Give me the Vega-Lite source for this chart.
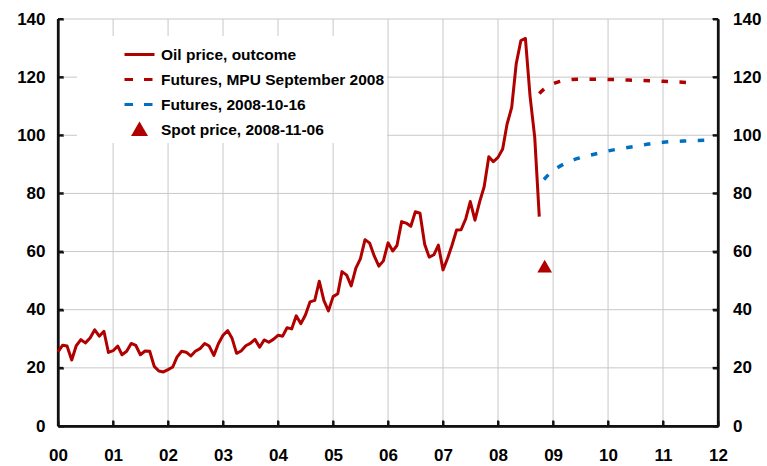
{
  "$schema": "https://vega.github.io/schema/vega-lite/v6.json",
  "width": 660,
  "height": 407,
  "autosize": {"type": "none"},
  "padding": {"left": 58, "top": 19, "right": 49, "bottom": 40},
  "background": "white",
  "config": {
    "view": {"stroke": "transparent"},
    "font": "Liberation Sans",
    "axis": {
      "domain": true, "domainColor": "#111111", "domainWidth": 2.25,
      "ticks": true, "tickColor": "#111111", "tickWidth": 2, "tickSize": -5.5,
      "grid": false,
      "labelFont": "Liberation Sans", "labelFontSize": 17, "labelFontWeight": "bold", "labelColor": "black",
      "title": null
    }
  },
  "datasets": {
    "outcome": [
      {"date": "2000-01-01", "price": 25.5}, {"date": "2000-02-01", "price": 27.8}, {"date": "2000-03-01", "price": 27.5}, {"date": "2000-04-01", "price": 22.7},
      {"date": "2000-05-01", "price": 27.6}, {"date": "2000-06-01", "price": 29.7}, {"date": "2000-07-01", "price": 28.6}, {"date": "2000-08-01", "price": 30.3},
      {"date": "2000-09-01", "price": 33.1}, {"date": "2000-10-01", "price": 30.9}, {"date": "2000-11-01", "price": 32.6}, {"date": "2000-12-01", "price": 25.3},
      {"date": "2001-01-01", "price": 25.9}, {"date": "2001-02-01", "price": 27.5}, {"date": "2001-03-01", "price": 24.5}, {"date": "2001-04-01", "price": 25.7},
      {"date": "2001-05-01", "price": 28.4}, {"date": "2001-06-01", "price": 27.7}, {"date": "2001-07-01", "price": 24.5}, {"date": "2001-08-01", "price": 25.8},
      {"date": "2001-09-01", "price": 25.7}, {"date": "2001-10-01", "price": 20.5}, {"date": "2001-11-01", "price": 18.9}, {"date": "2001-12-01", "price": 18.6},
      {"date": "2002-01-01", "price": 19.4}, {"date": "2002-02-01", "price": 20.3}, {"date": "2002-03-01", "price": 23.7}, {"date": "2002-04-01", "price": 25.7},
      {"date": "2002-05-01", "price": 25.4}, {"date": "2002-06-01", "price": 24.1}, {"date": "2002-07-01", "price": 25.7}, {"date": "2002-08-01", "price": 26.6},
      {"date": "2002-09-01", "price": 28.4}, {"date": "2002-10-01", "price": 27.5}, {"date": "2002-11-01", "price": 24.3}, {"date": "2002-12-01", "price": 28.3},
      {"date": "2003-01-01", "price": 31.2}, {"date": "2003-02-01", "price": 32.8}, {"date": "2003-03-01", "price": 30.3}, {"date": "2003-04-01", "price": 25.0},
      {"date": "2003-05-01", "price": 25.8}, {"date": "2003-06-01", "price": 27.6}, {"date": "2003-07-01", "price": 28.4}, {"date": "2003-08-01", "price": 29.8},
      {"date": "2003-09-01", "price": 27.1}, {"date": "2003-10-01", "price": 29.6}, {"date": "2003-11-01", "price": 28.8}, {"date": "2003-12-01", "price": 29.8},
      {"date": "2004-01-01", "price": 31.2}, {"date": "2004-02-01", "price": 30.9}, {"date": "2004-03-01", "price": 33.8}, {"date": "2004-04-01", "price": 33.4},
      {"date": "2004-05-01", "price": 37.9}, {"date": "2004-06-01", "price": 35.2}, {"date": "2004-07-01", "price": 38.2}, {"date": "2004-08-01", "price": 42.7},
      {"date": "2004-09-01", "price": 43.2}, {"date": "2004-10-01", "price": 49.8}, {"date": "2004-11-01", "price": 43.1}, {"date": "2004-12-01", "price": 39.6},
      {"date": "2005-01-01", "price": 44.5}, {"date": "2005-02-01", "price": 45.5}, {"date": "2005-03-01", "price": 53.1}, {"date": "2005-04-01", "price": 51.9},
      {"date": "2005-05-01", "price": 48.2}, {"date": "2005-06-01", "price": 54.3}, {"date": "2005-07-01", "price": 57.5}, {"date": "2005-08-01", "price": 64.1},
      {"date": "2005-09-01", "price": 62.9}, {"date": "2005-10-01", "price": 58.5}, {"date": "2005-11-01", "price": 55.0}, {"date": "2005-12-01", "price": 56.8},
      {"date": "2006-01-01", "price": 63.0}, {"date": "2006-02-01", "price": 60.2}, {"date": "2006-03-01", "price": 62.1}, {"date": "2006-04-01", "price": 70.3},
      {"date": "2006-05-01", "price": 69.8}, {"date": "2006-06-01", "price": 68.7}, {"date": "2006-07-01", "price": 73.7}, {"date": "2006-08-01", "price": 73.2},
      {"date": "2006-09-01", "price": 62.5}, {"date": "2006-10-01", "price": 58.1}, {"date": "2006-11-01", "price": 58.9}, {"date": "2006-12-01", "price": 62.2},
      {"date": "2007-01-01", "price": 53.7}, {"date": "2007-02-01", "price": 57.8}, {"date": "2007-03-01", "price": 62.1}, {"date": "2007-04-01", "price": 67.4},
      {"date": "2007-05-01", "price": 67.5}, {"date": "2007-06-01", "price": 71.3}, {"date": "2007-07-01", "price": 77.2}, {"date": "2007-08-01", "price": 70.8},
      {"date": "2007-09-01", "price": 77.1}, {"date": "2007-10-01", "price": 82.3}, {"date": "2007-11-01", "price": 92.6}, {"date": "2007-12-01", "price": 90.9},
      {"date": "2008-01-01", "price": 92.4}, {"date": "2008-02-01", "price": 95.3}, {"date": "2008-03-01", "price": 103.8}, {"date": "2008-04-01", "price": 109.6},
      {"date": "2008-05-01", "price": 124.6}, {"date": "2008-06-01", "price": 132.6}, {"date": "2008-07-01", "price": 133.3}, {"date": "2008-08-01", "price": 113.4},
      {"date": "2008-09-01", "price": 99.3}, {"date": "2008-10-01", "price": 72.0}
    ],
    "futuresSep": [
      {"date": "2008-10-01", "price": 114.4}, {"date": "2008-11-01", "price": 115.9}, {"date": "2008-12-01", "price": 117.0},
      {"date": "2009-01-01", "price": 117.7}, {"date": "2009-02-01", "price": 118.3}, {"date": "2009-03-01", "price": 118.7},
      {"date": "2009-04-01", "price": 119.0}, {"date": "2009-07-01", "price": 119.3}, {"date": "2010-01-01", "price": 119.2},
      {"date": "2010-07-01", "price": 118.9}, {"date": "2011-01-01", "price": 118.6}, {"date": "2011-07-01", "price": 118.1}
    ],
    "futuresOct": [
      {"date": "2008-11-01", "price": 84.8}, {"date": "2008-12-01", "price": 86.4}, {"date": "2009-01-01", "price": 87.8},
      {"date": "2009-02-01", "price": 88.9}, {"date": "2009-04-01", "price": 90.6}, {"date": "2009-07-01", "price": 92.3},
      {"date": "2009-10-01", "price": 93.5}, {"date": "2010-01-01", "price": 94.6}, {"date": "2010-04-01", "price": 95.5},
      {"date": "2010-07-01", "price": 96.2}, {"date": "2010-10-01", "price": 97.0}, {"date": "2011-01-01", "price": 97.6},
      {"date": "2011-07-01", "price": 98.1}, {"date": "2011-12-01", "price": 98.4}
    ],
    "spot": [
      {"date": "2008-11-06", "price": 55}
    ],
    "yearTicks": [
      {"date": "2001-01-01"}, {"date": "2002-01-01"}, {"date": "2003-01-01"}, {"date": "2004-01-01"}, {"date": "2005-01-01"}, {"date": "2006-01-01"},
      {"date": "2007-01-01"}, {"date": "2008-01-01"}, {"date": "2009-01-01"}, {"date": "2010-01-01"}, {"date": "2011-01-01"}
    ],
    "levelTicks": [
      {"price": 20}, {"price": 40}, {"price": 60}, {"price": 80}, {"price": 100}, {"price": 120}, {"price": 140}
    ]
  },
  "layer": [
    {
      "layer": [
        {
          "data": {"name": "yearTicks"},
          "mark": {"type": "rule", "color": "#c8c8c8", "strokeWidth": 1},
          "encoding": {
            "x": {
              "field": "date", "type": "temporal",
              "scale": {"type": "utc", "domain": [{"year": 2000, "month": 1, "date": 1, "utc": true}, {"year": 2012, "month": 1, "date": 1, "utc": true}]},
              "axis": {"format": "%y", "tickCount": {"interval": "year", "step": 1}, "labelFlush": false, "labelOverlap": false, "labelPadding": 26.5}
            }
          }
        },
        {
          "data": {"name": "levelTicks"},
          "mark": {"type": "rule", "color": "#c8c8c8", "strokeWidth": 1},
          "encoding": {
            "y": {
              "field": "price", "type": "quantitative",
              "scale": {"domain": [0, 140], "nice": false, "zero": true},
              "axis": {"orient": "left", "values": [0, 20, 40, 60, 80, 100, 120, 140], "labelPadding": 18.5}
            }
          }
        },
        {
          "data": {"name": "spot"},
          "mark": {"type": "rule", "color": "#111111", "strokeWidth": 2.25},
          "encoding": {"y": {"datum": 0, "type": "quantitative"}}
        },
        {
          "data": {"name": "spot"},
          "mark": {"type": "rule", "color": "#111111", "strokeWidth": 2.25},
          "encoding": {"x": {"datum": {"year": 2000, "month": 1, "date": 1, "utc": true}, "type": "temporal"}}
        },
        {
          "data": {"name": "spot"},
          "mark": {"type": "rule", "color": "#111111", "strokeWidth": 2.25},
          "encoding": {"x": {"datum": {"year": 2012, "month": 1, "date": 1, "utc": true}, "type": "temporal"}}
        },
        {
          "data": {"name": "yearTicks"},
          "mark": {"type": "rule", "color": "#111111", "strokeWidth": 2},
          "encoding": {
            "x": {"field": "date", "type": "temporal"},
            "y": {"datum": 0, "type": "quantitative"},
            "y2": {"datum": 1.9}
          }
        },
        {
          "data": {"name": "levelTicks"},
          "mark": {"type": "rule", "color": "#111111", "strokeWidth": 2},
          "encoding": {
            "y": {"field": "price", "type": "quantitative"},
            "x": {"datum": {"year": 2000, "month": 1, "date": 1, "utc": true}, "type": "temporal"},
            "x2": {"datum": {"year": 2000, "month": 2, "date": 6, "utc": true}}
          }
        },
        {
          "data": {"name": "levelTicks"},
          "mark": {"type": "rule", "color": "#111111", "strokeWidth": 2},
          "encoding": {
            "y": {"field": "price", "type": "quantitative"},
            "x": {"datum": {"year": 2011, "month": 11, "date": 26, "utc": true}, "type": "temporal"},
            "x2": {"datum": {"year": 2012, "month": 1, "date": 1, "utc": true}}
          }
        },
        {
          "data": {"name": "outcome"},
          "mark": {"type": "line", "strokeWidth": 3, "strokeJoin": "round"},
          "encoding": {
            "x": {"field": "date", "type": "temporal"},
            "y": {"field": "price", "type": "quantitative"},
            "color": {
              "datum": "Oil price, outcome",
              "scale": {
                "domain": ["Oil price, outcome", "Futures, MPU September 2008", "Futures, 2008-10-16", "Spot price, 2008-11-06"],
                "range": ["#b00000", "#b00000", "#0070c0", "#b00000"]
              },
              "legend": {
                "title": null, "orient": "none", "legendX": 19, "legendY": 17,
                "fillColor": "white", "padding": 2,
                "symbolType": "stroke", "symbolSize": 900, "symbolStrokeWidth": 3,
                "symbolOffset": 44,
                "rowPadding": -10.7,
                "labelFont": "Liberation Sans", "labelFontSize": 15.5, "labelFontWeight": "bold", "labelColor": "black", "labelOffset": 5,
                "labelLimit": 400,
                "labelExpr": "datum.label + '\u00a0\u00a0\u00a0\u00a0\u00a0\u00a0\u00a0\u00a0\u00a0'",
                "encode": {
                  "symbols": {
                    "update": {
                      "shape": {"signal": "datum.value === 'Spot price, 2008-11-06' ? 'triangle-up' : 'stroke'"},
                      "size": {"signal": "datum.value === 'Spot price, 2008-11-06' ? 140 : 900"},
                      "strokeDash": {"signal": "indexof(datum.value, 'Futures') === 0 ? [8.5, 11] : [1, 0]"},
                      "strokeWidth": {"value": 3},
                      "fill": {"signal": "datum.value === 'Spot price, 2008-11-06' ? '#b00000' : 'transparent'"},
                      "stroke": {"signal": "datum.value === 'Spot price, 2008-11-06' ? 'transparent' : (datum.value === 'Futures, 2008-10-16' ? '#0070c0' : '#b00000')"},
                      "opacity": {"value": 1}
                    }
                  }
                }
              }
            }
          }
        },
        {
          "data": {"name": "futuresSep"},
          "mark": {"type": "line", "strokeWidth": 3.5, "strokeDash": [6.5, 11.5], "interpolate": "monotone"},
          "encoding": {
            "x": {"field": "date", "type": "temporal"},
            "y": {"field": "price", "type": "quantitative"},
            "color": {"datum": "Futures, MPU September 2008"}
          }
        },
        {
          "data": {"name": "futuresOct"},
          "mark": {"type": "line", "strokeWidth": 3.5, "strokeDash": [6.5, 11.5], "interpolate": "monotone"},
          "encoding": {
            "x": {"field": "date", "type": "temporal"},
            "y": {"field": "price", "type": "quantitative"},
            "color": {"datum": "Futures, 2008-10-16"}
          }
        },
        {
          "data": {"name": "spot"},
          "mark": {"type": "point", "shape": "triangle-up", "filled": true, "size": 215, "opacity": 1},
          "encoding": {
            "x": {"field": "date", "type": "temporal"},
            "y": {"field": "price", "type": "quantitative"},
            "color": {"datum": "Spot price, 2008-11-06"}
          }
        }
      ]
    },
    {
      "data": {"name": "spot"},
      "mark": {"type": "point", "opacity": 0},
      "encoding": {
        "x": {"field": "date", "type": "temporal"},
        "y": {
          "field": "price", "type": "quantitative",
          "scale": {"domain": [0, 140], "nice": false, "zero": true},
          "axis": {"orient": "right", "values": [0, 20, 40, 60, 80, 100, 120, 140], "labelPadding": 20}
        }
      }
    }
  ],
  "resolve": {"scale": {"y": "independent"}}
}
